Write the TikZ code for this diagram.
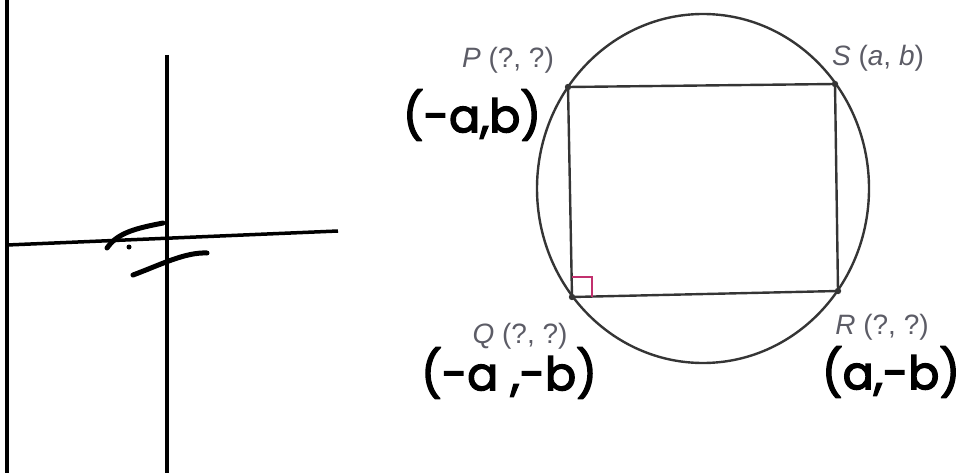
\documentclass[tikz,border=0pt]{standalone}
\usepackage{fontspec}
\setmainfont{Liberation Sans}
\newfontfamily\handfont[FakeBold=3]{Poppins}
\usetikzlibrary{positioning}
\definecolor{inkgray}{HTML}{353535}
\definecolor{printgray}{HTML}{5C5C66}
\definecolor{markmagenta}{HTML}{C2306E}

\begin{document}
\begin{tikzpicture}[
x=1pt, y=-1pt,
axis/.style={line width=3.5pt, black},
figline/.style={line width=2.4pt, inkgray},
hand/.style={line width=5pt, black, line cap=round},
printlbl/.style={text=printgray, font=\fontsize{28}{30}\selectfont, inner sep=0},
handlbl/.style={font=\handfont\fontsize{46}{50}\selectfont, inner sep=0}
]
\useasboundingbox (0,0) rectangle (968,473);
% sketch on the left
\coordinate (edgetop) at (7,0);
\coordinate (edgebot) at (7,473);
\coordinate (ytop) at (167,55);
\coordinate (ybot) at (167,473);
\coordinate (xleft) at (7,245);
\coordinate (xright) at (338,231);
\draw[axis] (edgetop) -- (edgebot);
\draw[axis] (ytop) -- (ybot);
\draw[axis] (xleft) -- (xright);
\draw[hand] (107,248) .. controls (118,232) and (138,228) .. (163,223);
\fill (129,247) circle (2.5);
\draw[hand] (133,275) .. controls (160,265) and (185,252) .. (207,253);
% circle with the rectangle
\coordinate (O) at (703,188.5);
\coordinate (P) at (568,87);
\coordinate (S) at (835,84);
\coordinate (R) at (838,291);
\coordinate (Q) at (572,297);
\draw[figline] (O) ellipse [x radius=166, y radius=174.5];
\draw[figline] (P) -- (S) -- (R) -- (Q) -- cycle;
\draw[markmagenta, line width=1.2pt] ([yshift=20]Q) -| ([xshift=20]Q);
\foreach \v in {P,Q,R,S}
  \fill[inkgray] (\v) circle (3.2);
% printed labels
\node[printlbl] (lblP) at (508,60) {\textit{P} (?, ?)};
\node[printlbl] (lblS) at (878,58) {\textit{S} (\textit{a}, \textit{b})};
\node[printlbl] (lblQ) at (520,336) {\textit{Q} (?, ?)};
\node[printlbl] (lblR) at (882,327) {\textit{R} (?, ?)};
% handwritten answers
\node[handlbl] (ansP) at (472,115) {(-a,b)};
\node[handlbl] (ansQ) at (509,373) {(-a ,-b)};
\node[handlbl] (ansR) at (891,372) {(a,-b)};
\end{tikzpicture}
\end{document}
